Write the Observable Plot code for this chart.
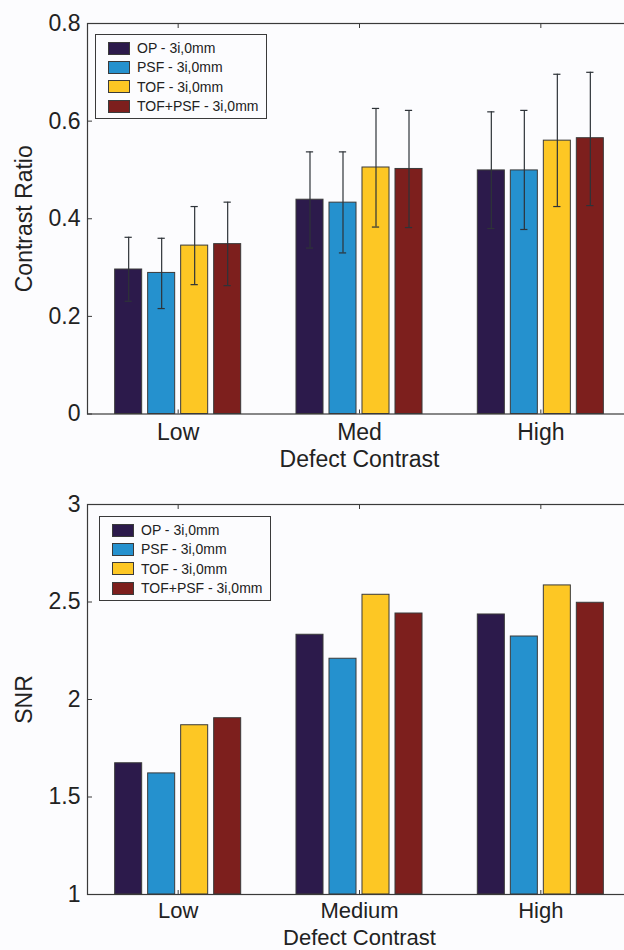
<!DOCTYPE html>
<html><head><meta charset="utf-8">
<script src="https://cdn.jsdelivr.net/npm/d3@7"></script>
<script src="https://cdn.jsdelivr.net/npm/@observablehq/plot@0.6"></script>
<style>
html,body{margin:0;padding:0;overflow:hidden;background:#fcfcfe;width:624px;height:950px}
#wrap{position:relative;width:624px;height:950px;overflow:hidden}
#wrap svg{display:block;background:#fcfcfe;max-width:none !important}
.legend{position:absolute;width:172px;height:85px;border:1px solid #3a3a3a;background:#fcfcfe;font-family:"Liberation Sans",Arial,sans-serif;font-size:14px;color:#222;box-sizing:border-box}
.row{position:absolute;left:0;height:20px;display:flex;align-items:center;white-space:nowrap}
.sw{width:22px;height:13px;border:1px solid #3a3a3a;box-sizing:border-box;margin-left:12px;margin-right:7px}
</style></head>
<body><div id="wrap"></div>
<script>
// ---- data ----
const series = ["OP - 3i,0mm", "PSF - 3i,0mm", "TOF - 3i,0mm", "TOF+PSF - 3i,0mm"];
const colors = ["#2c1a4b", "#2591ce", "#fdc724", "#7d1f1d"];

const crCategories = ["Low", "Med", "High"];
const crOP     = [0.296, 0.439, 0.499];
const crPSF    = [0.289, 0.433, 0.499];
const crTOF    = [0.345, 0.505, 0.560];
const crTOFPSF = [0.348, 0.502, 0.565];
const crLoOP     = [0.231, 0.340, 0.380];
const crHiOP     = [0.362, 0.537, 0.619];
const crLoPSF    = [0.216, 0.330, 0.378];
const crHiPSF    = [0.360, 0.537, 0.622];
const crLoTOF    = [0.265, 0.383, 0.425];
const crHiTOF    = [0.425, 0.626, 0.696];
const crLoTOFPSF = [0.263, 0.382, 0.427];
const crHiTOFPSF = [0.434, 0.622, 0.700];
const crTicks = [0, 0.2, 0.4, 0.6, 0.8];

const snrCategories = ["Low", "Medium", "High"];
const snrOP     = [1.673, 2.332, 2.436];
const snrPSF    = [1.621, 2.209, 2.323];
const snrTOF    = [1.868, 2.537, 2.585];
const snrTOFPSF = [1.904, 2.441, 2.496];
const snrTicks = [1, 1.5, 2, 2.5, 3];

// ---- layout ----
const STEP = 0.182, BW = 0.149, CAP = 0.02;
const FONT = '"Liberation Sans", Arial, sans-serif';
const FS = 23;

function panel({cats, values, lo, hi, yDomain, yTicks, yLabel, height, marginTop, marginBottom, xlabelDy, xfs, xpad}) {
  const rows = [];
  cats.forEach((c, gi) => series.forEach((s, si) => rows.push({
    g: gi + 1, si, s, v: values[si][gi],
    lo: lo ? lo[si][gi] : null, hi: hi ? hi[si][gi] : null
  })));
  const pos = d => d.g + (d.si - 1.5) * STEP;
  const marks = [
    Plot.rectY(rows, {x1: d => pos(d) - BW / 2, x2: d => pos(d) + BW / 2, y1: d => yDomain[0], y2: "v",
      fill: "s", stroke: "#3a3a3a", strokeWidth: 1})
  ];
  if (lo) {
    marks.push(
      Plot.ruleX(rows, {x: pos, y1: "lo", y2: "hi", stroke: "#2e3338", strokeWidth: 1.2}),
      Plot.ruleY(rows, {y: "hi", x1: d => pos(d) - CAP, x2: d => pos(d) + CAP, stroke: "#2e3338", strokeWidth: 1.2}),
      Plot.ruleY(rows, {y: "lo", x1: d => pos(d) - CAP, x2: d => pos(d) + CAP, stroke: "#2e3338", strokeWidth: 1.2})
    );
  }
  marks.push(
    Plot.frame({stroke: "#3a3a3a", strokeWidth: 1.2}),
    Plot.axisY({ticks: yTicks, tickSize: 0, tickPadding: 7, fontSize: FS, label: null, tickFormat: d => String(d)}),
    Plot.axisY({ticks: yTicks, tickSize: -5, text: null, label: null, stroke: "#3a3a3a"}),
    Plot.axisX({ticks: [1, 2, 3], tickSize: 0, tickPadding: xpad, fontSize: xfs, label: null, tickFormat: i => cats[i - 1]}),
    Plot.axisX({ticks: [1, 2, 3], tickSize: -4, text: null, label: null, stroke: "#3a3a3a"}),
    Plot.axisX({anchor: "top", ticks: [1, 2, 3], tickSize: -4, text: null, label: null, stroke: "#3a3a3a"}),
    Plot.text([yLabel], {text: d => d, frameAnchor: "left", textAnchor: "middle", lineAnchor: "middle", dx: -63, rotate: -90, fontSize: FS, fill: "#222"}),
    Plot.text(["Defect Contrast"], {text: d => d, frameAnchor: "bottom", lineAnchor: "middle", dy: xlabelDy, fontSize: xfs, fill: "#222"})
  );
  return Plot.plot({
    width: 640, height, marginLeft: 87, marginRight: 9, marginTop, marginBottom,
    style: {fontFamily: FONT, color: "#222", background: "#fcfcfe", overflow: "visible", maxWidth: "none"},
    x: {type: "linear", domain: [0.5, 3.5], axis: null},
    y: {domain: yDomain, axis: null},
    color: {domain: series, range: colors},
    marks
  });
}

function legend(left, top) {
  const box = document.createElement("div");
  box.className = "legend";
  box.style.left = left + "px";
  box.style.top = top + "px";
  series.forEach((s, i) => {
    const r = document.createElement("div");
    r.className = "row";
    r.style.top = (3 + 19.4 * i) + "px";
    const sw = document.createElement("div");
    sw.className = "sw";
    sw.style.background = colors[i];
    const t = document.createElement("span");
    t.textContent = s;
    r.appendChild(sw); r.appendChild(t);
    box.appendChild(r);
  });
  return box;
}

const wrap = document.getElementById("wrap");
wrap.appendChild(panel({
  cats: crCategories,
  values: [crOP, crPSF, crTOF, crTOFPSF],
  lo: [crLoOP, crLoPSF, crLoTOF, crLoTOFPSF],
  hi: [crHiOP, crHiPSF, crHiTOF, crHiTOFPSF],
  yDomain: [0, 0.8], yTicks: crTicks, yLabel: "Contrast Ratio",
  height: 480, marginTop: 23, marginBottom: 66.5, xlabelDy: 46, xfs: 23, xpad: 10
}));
wrap.appendChild(panel({
  cats: snrCategories,
  values: [snrOP, snrPSF, snrTOF, snrTOFPSF],
  lo: null, hi: null,
  yDomain: [1, 3], yTicks: snrTicks, yLabel: "SNR",
  height: 470, marginTop: 24, marginBottom: 56, xlabelDy: 43, xfs: 22, xpad: 8
}));
wrap.appendChild(legend(95, 34));
wrap.appendChild(legend(99, 516));
</script>
</body></html>
